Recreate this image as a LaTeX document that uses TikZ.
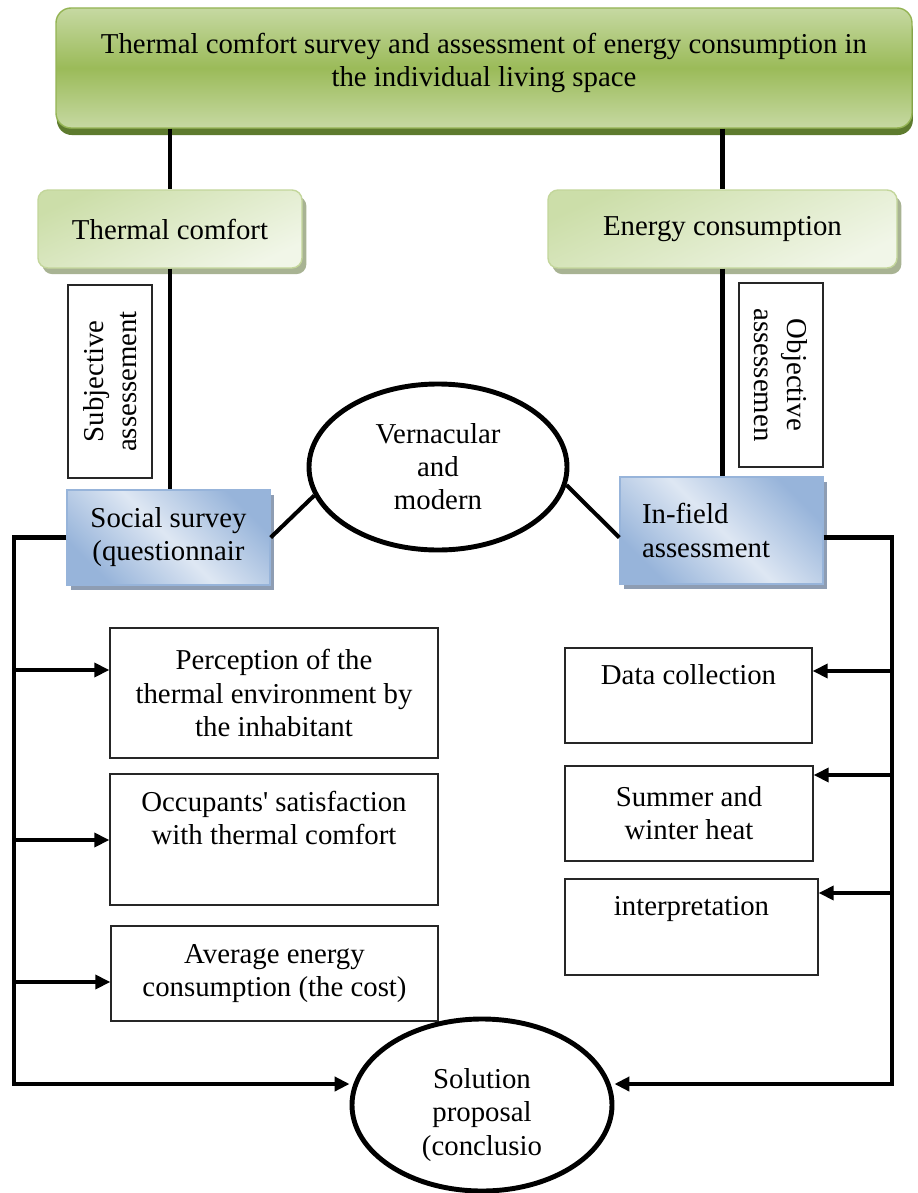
\documentclass[tikz,border=0pt]{standalone}
\usepackage{fontspec}
\setmainfont{Liberation Serif}
\usetikzlibrary{arrows.meta,shapes.geometric,shadows}
\newdimen\pxu \pxu=0.02cm

\definecolor{ttlLight}{HTML}{C6D9A2}
\definecolor{ttlMid}{HTML}{9BBB59}
\definecolor{ttlLine}{HTML}{94B454}
\definecolor{ttlShade}{HTML}{5E7B2E}
\definecolor{hdrTop}{HTML}{CCDEA9}
\definecolor{hdrBot}{HTML}{F1F6E8}
\definecolor{hdrLine}{HTML}{C3D69B}
\definecolor{hdrShade}{HTML}{A8B393}
\definecolor{bluDark}{HTML}{97B4DA}
\definecolor{bluLight}{HTML}{DEE7F3}
\definecolor{bluShade}{HTML}{8E9DB3}

\begin{document}
\begin{tikzpicture}[x=0.02cm, y=-0.02cm,
    every node/.style={font=\fontsize{16.4}{18.8}\selectfont, align=center},
    ttl/.style={draw=ttlLine, line width=0.8pt, rounded corners=15\pxu, top color=ttlLight, bottom color=ttlLight, middle color=ttlMid, drop shadow={shadow xshift=0.5pt, shadow yshift=-4pt, fill=ttlShade, opacity=1}},
    hdr/.style={draw=hdrLine, line width=0.8pt, rounded corners=10\pxu, top color=hdrTop, bottom color=hdrBot, shading angle=25, drop shadow={shadow xshift=2.5pt, shadow yshift=-3.5pt, fill=hdrShade, opacity=1}},
    blu/.style={draw=bluDark, line width=0.8pt, top color=bluDark, bottom color=bluDark, middle color=bluLight, shading angle=-45, drop shadow={shadow xshift=2.5pt, shadow yshift=-3pt, fill=bluShade, opacity=1}},
    plain/.style={draw=black!85, line width=0.8pt, fill=white, inner sep=0pt},
    oval/.style={ellipse, draw, line width=2.8pt, fill=white, inner sep=0pt},
    conn/.style={line width=2.8pt},
    link/.style={line width=2.3pt},
    frame/.style={line width=2.5pt, line join=miter},
    arr/.style={-{Triangle[length=8.5pt,width=8pt]}, line width=1.9pt}
]
\path[use as bounding box, fill=white] (0,0) rectangle (917,1193);

% top level
\node[ttl, minimum width=856\pxu, minimum height=120\pxu] (survey) at (484,68) {Thermal comfort survey and assessment of energy consumption in\\the individual living space\\[-10pt]\mbox{}};
\node[hdr, minimum width=264\pxu, minimum height=78\pxu] (thermal) at (170,229) {Thermal comfort};
\node[hdr, minimum width=349\pxu, minimum height=78\pxu] (energy) at (722.5,229) {Energy consumption};

% assessment labels
\node[plain, rotate=90, minimum width=193\pxu, minimum height=84\pxu] (subj) at (110,381.5) {Subjective\\assessement};
\node[plain, rotate=-90, minimum width=184\pxu, minimum height=84\pxu] (obj) at (781,375) {Objective\\assessemen};

% methods
\node[blu, minimum width=203\pxu, minimum height=95\pxu] (social) at (168.5,537.5) {Social survey\\(questionnair};
\node[blu, minimum width=203\pxu, minimum height=107\pxu, text width=159\pxu, inner xsep=22\pxu, align=left] (field) at (721.5,530.5) {In-field\\assessment};
\node[oval, minimum width=258\pxu, minimum height=166\pxu] (vern) at (438,467) {Vernacular\\and\\modern};

% left column
\node[plain, minimum width=328\pxu, minimum height=130\pxu] (percep) at (274,693) {Perception of the\\thermal environment by\\the inhabitant};
\node[plain, minimum width=328\pxu, minimum height=131\pxu] (satis) at (274,839.5) {Occupants\textquotesingle{} satisfaction\\with thermal comfort\\\strut};
\node[plain, minimum width=327\pxu, minimum height=95\pxu] (avgcost) at (274.5,973.5) {Average energy\\consumption (the cost)};

% right column
\node[plain, minimum width=247\pxu, minimum height=95\pxu] (datacol) at (688.5,695.5) {Data collection\\\strut};
\node[plain, minimum width=248\pxu, minimum height=95\pxu] (season) at (689,813.5) {Summer and\\winter heat};
\node[plain, minimum width=253\pxu, minimum height=96\pxu] (interp) at (691.5,927) {interpretation\\\strut};

\node[oval, minimum width=260\pxu, minimum height=172\pxu] (solution) at (482,1105) {\mbox{}\\[4pt]Solution\\proposal\\(conclusio};

% connectors
\draw[conn] (thermal.north |- survey.south) -- (thermal.north);
\draw[conn] (energy.north |- survey.south) -- (energy.north);
\draw[conn] (thermal.south) -- (thermal.south |- social.north);
\draw[conn] (energy.south) -- (energy.south |- field.north);
\draw[link] (social.east) -- (vern.193);
\draw[link] (vern.352) -- (field.west |- social.east);

% frames
\coordinate (lftTop) at (14,537.5);
\coordinate (lftBot) at (14,1084);
\coordinate (rgtTop) at (892,537.5);
\coordinate (rgtBot) at (892,1084);
\draw[frame, arr, line width=2.5pt] (social.west) -- (lftTop) -- (lftBot) -- (lftBot -| solution.west);
\draw[frame, arr, line width=2.5pt] (field.east |- rgtTop) -- (rgtTop) -- (rgtBot) -- (rgtBot -| solution.east);

\foreach \yy/\tgt in {670/percep, 840/satis, 982/avgcost}{
  \coordinate (tap) at (14,\yy);
  \draw[arr] (tap) -- (tap -| \tgt.west);
}
\foreach \yy/\tgt in {671/datacol, 775/season, 893/interp}{
  \coordinate (tap) at (892,\yy);
  \draw[arr] (tap) -- (tap -| \tgt.east);
}
\end{tikzpicture}
\end{document}
